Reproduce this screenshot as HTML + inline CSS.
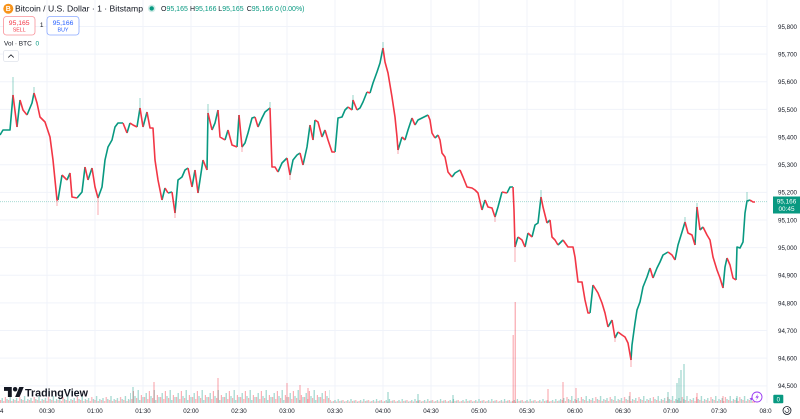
<!DOCTYPE html>
<html><head><meta charset="utf-8">
<style>
html,body{margin:0;padding:0;background:#fff;width:800px;height:419px;overflow:hidden}
svg{display:block}
text{font-family:"Liberation Sans",Arial,sans-serif}
</style></head><body>
<svg width="800" height="419" viewBox="0 0 800 419" xmlns="http://www.w3.org/2000/svg">
<defs>
<pattern id="pA" x="0" y="383" width="16" height="20" patternUnits="userSpaceOnUse">
<rect x="0" y="14" width="1.2" height="6" fill="#f23645" fill-opacity="0.4"/>
<rect x="1.6" y="10" width="1.2" height="10" fill="#089981" fill-opacity="0.4"/>
<rect x="3.2" y="16" width="1.2" height="4" fill="#f23645" fill-opacity="0.4"/>
<rect x="4.8" y="8" width="1.2" height="12" fill="#f23645" fill-opacity="0.4"/>
<rect x="6.4" y="13" width="1.2" height="7" fill="#089981" fill-opacity="0.4"/>
<rect x="8" y="15" width="1.2" height="5" fill="#f23645" fill-opacity="0.4"/>
<rect x="9.6" y="7" width="1.2" height="13" fill="#089981" fill-opacity="0.4"/>
<rect x="11.2" y="17" width="1.2" height="3" fill="#089981" fill-opacity="0.4"/>
<rect x="12.8" y="12" width="1.2" height="8" fill="#f23645" fill-opacity="0.4"/>
<rect x="14.4" y="14" width="1.2" height="6" fill="#089981" fill-opacity="0.4"/>
</pattern>
<pattern id="pB" x="0" y="383" width="14.4" height="20" patternUnits="userSpaceOnUse">
<rect x="0" y="17" width="1.2" height="3" fill="#f23645" fill-opacity="0.4"/>
<rect x="1.6" y="15" width="1.2" height="5" fill="#089981" fill-opacity="0.4"/>
<rect x="3.2" y="18" width="1.2" height="2" fill="#f23645" fill-opacity="0.4"/>
<rect x="4.8" y="14" width="1.2" height="6" fill="#f23645" fill-opacity="0.4"/>
<rect x="6.4" y="16" width="1.2" height="4" fill="#089981" fill-opacity="0.4"/>
<rect x="8" y="17" width="1.2" height="3" fill="#f23645" fill-opacity="0.4"/>
<rect x="9.6" y="13" width="1.2" height="7" fill="#089981" fill-opacity="0.4"/>
<rect x="11.2" y="18" width="1.2" height="2" fill="#f23645" fill-opacity="0.4"/>
<rect x="12.8" y="16" width="1.2" height="4" fill="#089981" fill-opacity="0.4"/>
</pattern>
<pattern id="pC" x="0" y="383" width="12.8" height="20" patternUnits="userSpaceOnUse">
<rect x="0" y="18" width="1.2" height="2" fill="#f23645" fill-opacity="0.4"/>
<rect x="1.6" y="17" width="1.2" height="3" fill="#089981" fill-opacity="0.4"/>
<rect x="3.2" y="18.5" width="1.2" height="1.5" fill="#f23645" fill-opacity="0.4"/>
<rect x="4.8" y="16" width="1.2" height="4" fill="#089981" fill-opacity="0.4"/>
<rect x="6.4" y="18" width="1.2" height="2" fill="#f23645" fill-opacity="0.4"/>
<rect x="8" y="17.5" width="1.2" height="2.5" fill="#089981" fill-opacity="0.4"/>
<rect x="9.6" y="17" width="1.2" height="3" fill="#f23645" fill-opacity="0.4"/>
<rect x="11.2" y="18.5" width="1.2" height="1.5" fill="#089981" fill-opacity="0.4"/>
</pattern>
</defs>
<rect x="0" y="0" width="800" height="419" fill="#fff"/>

<!-- grid -->
<path d="M-1 0V403M47 0V403M95 0V403M143 0V403M191 0V403M239 0V403M287 0V403M335 0V403M383 0V403M431 0V403M479 0V403M527 0V403M575 0V403M623 0V403M671 0V403M719 0V403M767 0V403" stroke="#f0f3fa" stroke-width="1" fill="none"/>
<path d="M0 26.5H767M0 54.14H767M0 81.78H767M0 109.42H767M0 137.06H767M0 164.7H767M0 192.34H767M0 219.98H767M0 247.62H767M0 275.26H767M0 302.9H767M0 330.54H767M0 358.18H767M0 385.82H767" stroke="#f0f3fa" stroke-width="1" fill="none"/>

<!-- volume base -->
<rect x="0" y="383" width="130" height="20" fill="url(#pB)"/>
<rect x="130" y="383" width="200" height="20" fill="url(#pA)"/>
<rect x="330" y="383" width="180" height="20" fill="url(#pC)"/>
<rect x="510" y="383" width="50" height="20" fill="url(#pC)"/>
<rect x="560" y="383" width="80" height="20" fill="url(#pB)"/>
<rect x="640" y="383" width="115" height="20" fill="url(#pB)"/>
<!-- volume spikes -->
<g fill-opacity="0.4">
<rect x="132.4" y="387" width="1.2" height="16" fill="#089981"/>
<rect x="153.4" y="382" width="1.2" height="21" fill="#f23645"/>
<rect x="217.4" y="378" width="1.2" height="25" fill="#f23645"/>
<rect x="286.4" y="383" width="1.2" height="20" fill="#f23645"/>
<rect x="299.4" y="385" width="1.2" height="18" fill="#f23645"/>
<rect x="307.4" y="388" width="1.2" height="15" fill="#f23645"/>
<rect x="387.4" y="392" width="1.2" height="11" fill="#089981"/>
<rect x="417.4" y="394" width="1.2" height="9" fill="#089981"/>
<rect x="452.4" y="395" width="1.2" height="8" fill="#089981"/>
<rect x="512.6" y="335" width="1.2" height="68" fill="#f23645"/>
<rect x="514.6" y="302" width="1.3" height="101" fill="#f23645"/>
<rect x="547.4" y="389" width="1.2" height="14" fill="#f23645"/>
<rect x="562.4" y="382" width="1.2" height="21" fill="#f23645"/>
<rect x="575.4" y="388" width="1.2" height="15" fill="#f23645"/>
<rect x="629.4" y="392" width="1.2" height="11" fill="#f23645"/>
<rect x="667.4" y="392" width="1.2" height="11" fill="#089981"/>
<rect x="676.4" y="383" width="1.2" height="20" fill="#089981"/>
<rect x="678.4" y="378" width="1.2" height="25" fill="#089981"/>
<rect x="680.4" y="370" width="1.2" height="33" fill="#089981"/>
<rect x="683.4" y="364" width="1.2" height="39" fill="#089981"/>
<rect x="696.4" y="393" width="1.2" height="10" fill="#f23645"/>
<rect x="722.4" y="396" width="1.2" height="7" fill="#f23645"/>
<rect x="736.4" y="396" width="1.2" height="7" fill="#089981"/>
</g>

<!-- current price line -->
<line x1="0" y1="201.7" x2="767" y2="201.7" stroke="#089981" stroke-opacity="0.4" stroke-width="0.8" stroke-dasharray="1 1"/>

<!-- wicks -->
<path d="M13 95V77M383 48V42M747 201V192M140 108V98M34 93V87M208 113V104M270 108V102M353 100V95M541 197V190M697 207V203M685 222V217" stroke="#089981" stroke-width="0.7" stroke-opacity="0.6" fill="none"/>
<path d="M631 360V367M515 247V262M98 198V215M175 213V218M57 200V206M242 147V152M290 175V180M398 150V154M495 217V222M615 338V342" stroke="#f23645" stroke-width="0.7" stroke-opacity="0.6" fill="none"/>

<!-- price series -->
<path fill="none" stroke="#089981" stroke-width="1.6" stroke-linejoin="round" stroke-linecap="butt" d="M0 135L3 130L10 130L13 95M17 127L20 100M27 115L32 103L34 93M58 200L62 175M67 180L70 173M77 198L82 192L85 167M88 180L92 168M98 198L102 187L105 160L108 147L112 140L115 127L118 123L123 123M127 133L130 123M137 127L140 108M143 127L147 112M162 200L165 188M168 193L172 192M175 213L178 180L182 177L185 170L188 168M192 187L195 170M198 193L200 180L203 160M207 170L208 113M212 130L215 123L218 110M225 140L228 130M237 147L239 115M242 147L245 143L248 133L252 118L255 117M258 127L262 118L265 112L270 108M278 172L282 163L287 158M290 175L293 160L297 155L300 153M303 165L307 147L310 125M313 140L315 120M322 137L325 130M335 152L338 118L342 117L345 110L348 107M352 110L353 100M357 110L360 108L363 102L367 92M370 93L373 83L377 72L380 63L383 48M398 150L402 137M405 140L408 130L412 118M415 125L418 120L422 118L428 115M435 138L438 135M452 177L455 173L460 170M482 210L485 200M495 217L498 207L502 192M507 193L510 187L513 187M515 247L518 237M525 247L528 233M532 237L535 225L538 223L541 197M547 223L550 220M558 245L563 240M590 313L593 285M608 327L612 320M615 338L618 332M631 360L632 345L635 323L637 310L640 302L643 287L647 277L650 268M653 278L657 268L660 262L663 255L668 252M675 260L678 245L682 232L685 222M695 245L697 207M700 230L703 227M723 288L725 267L727 258M736 280L737 247L740 248L743 242L745 213L747 201L750 200"/>
<path fill="none" stroke="#f23645" stroke-width="1.6" stroke-linejoin="round" stroke-linecap="butt" d="M13 95L17 127M20 100L23 110L27 115M34 93L37 103L40 117L45 122L50 137L53 160L57 200L58 200M62 175L67 180M70 173L72 197L77 198M85 167L88 180M92 168L95 187L98 198M123 123L127 133M130 123L133 125L137 127M140 108L143 127M147 112L150 128L153 128L155 160L158 180L162 200M165 188L168 193M172 192L175 213M188 168L192 187M195 170L198 193M203 160L207 170M208 113L212 130M218 110L220 137L225 140M228 130L232 145L237 147M239 115L242 147M255 117L258 127M270 108L272 167L275 167L278 172M287 158L290 175M300 153L303 165M310 125L313 140M315 120L318 122L322 137M325 130L328 140L332 152L335 152M348 107L352 110M353 100L357 110M367 92L370 93M383 48L385 62L388 73L392 97L395 117L397 137L398 150M402 137L405 140M412 118L415 125M428 115L430 120L432 133L435 138M438 135L440 140L442 153L445 157L448 172L452 177M460 170L463 177L467 187L472 188L475 190L478 193L482 210M485 200L488 207L492 208L495 217M502 192L507 193M513 187L514 210L515 247M518 237L522 240L525 247M528 233L532 237M541 197L543 207L547 223M550 220L552 237L555 240L558 245M563 240L568 247L573 247L575 257L578 282L582 282L585 300L588 313L590 313M593 285L598 293L602 303L605 313L608 327M612 320L615 338M618 332L622 335L625 337L628 343L631 360M650 268L653 278M668 252L672 255L675 260M685 222L688 233L692 235L695 245M697 207L700 230M703 227L707 235L710 240L713 257L717 270L720 278L723 288M727 258L730 265L733 278L736 280M750 200L753 202L755 202"/>

<!-- price axis -->
<g font-size="6.8" fill="#131722">
<text x="778" y="28.9" textLength="19" lengthAdjust="spacingAndGlyphs">95,800</text>
<text x="778" y="56.5" textLength="19" lengthAdjust="spacingAndGlyphs">95,700</text>
<text x="778" y="84.2" textLength="19" lengthAdjust="spacingAndGlyphs">95,600</text>
<text x="778" y="111.8" textLength="19" lengthAdjust="spacingAndGlyphs">95,500</text>
<text x="778" y="139.5" textLength="19" lengthAdjust="spacingAndGlyphs">95,400</text>
<text x="778" y="167.1" textLength="19" lengthAdjust="spacingAndGlyphs">95,300</text>
<text x="778" y="194.7" textLength="19" lengthAdjust="spacingAndGlyphs">95,200</text>
<text x="778" y="222.4" textLength="19" lengthAdjust="spacingAndGlyphs">95,100</text>
<text x="778" y="250" textLength="19" lengthAdjust="spacingAndGlyphs">95,000</text>
<text x="778" y="277.7" textLength="19" lengthAdjust="spacingAndGlyphs">94,900</text>
<text x="778" y="305.3" textLength="19" lengthAdjust="spacingAndGlyphs">94,800</text>
<text x="778" y="332.9" textLength="19" lengthAdjust="spacingAndGlyphs">94,700</text>
<text x="778" y="360.6" textLength="19" lengthAdjust="spacingAndGlyphs">94,600</text>
<text x="778" y="388.2" textLength="19" lengthAdjust="spacingAndGlyphs">94,500</text>
</g>

<!-- time axis -->
<g font-size="6.2" fill="#131722" text-anchor="middle">
<text x="47" y="413">00:30</text>
<text x="95" y="413">01:00</text>
<text x="143" y="413">01:30</text>
<text x="191" y="413">02:00</text>
<text x="239" y="413">02:30</text>
<text x="287" y="413">03:00</text>
<text x="335" y="413">03:30</text>
<text x="383" y="413">04:00</text>
<text x="431" y="413">04:30</text>
<text x="479" y="413">05:00</text>
<text x="527" y="413">05:30</text>
<text x="575" y="413">06:00</text>
<text x="623" y="413">06:30</text>
<text x="671" y="413">07:00</text>
<text x="719" y="413">07:30</text>
</g>
<text x="0" y="413" font-size="6.2" fill="#131722">4</text>
<text x="759.5" y="413" font-size="6.2" fill="#131722">08:0</text>

<!-- header -->
<circle cx="8.3" cy="8.7" r="5" fill="#f7931a"/>
<text x="8.3" y="11.2" font-size="7" font-weight="bold" fill="#fff" text-anchor="middle">B</text>
<text x="15" y="11.6" font-size="8.7" fill="#131722" textLength="128" lengthAdjust="spacingAndGlyphs">Bitcoin / U.S. Dollar · 1 · Bitstamp</text>
<circle cx="151.7" cy="8.4" r="3.8" fill="#089981" fill-opacity="0.2"/>
<circle cx="151.7" cy="8.4" r="2.2" fill="#089981"/>
<text x="161" y="11" font-size="7"><tspan fill="#131722">O</tspan><tspan fill="#089981">95,165</tspan></text>
<text x="190" y="11" font-size="7"><tspan fill="#131722">H</tspan><tspan fill="#089981">95,166</tspan></text>
<text x="218.3" y="11" font-size="7"><tspan fill="#131722">L</tspan><tspan fill="#089981">95,165</tspan></text>
<text x="246.7" y="11" font-size="7"><tspan fill="#131722">C</tspan><tspan fill="#089981">95,166</tspan></text>
<text x="275" y="11" font-size="7" fill="#089981">0</text>
<text x="280" y="11" font-size="7" fill="#089981">(0.00%)</text>

<rect x="3.5" y="16.5" width="31.5" height="18.5" rx="3" fill="#fff" stroke="#f23645" stroke-opacity="0.55" stroke-width="0.8"/>
<text x="19.2" y="25" font-size="6.8" fill="#f23645" text-anchor="middle">95,165</text>
<text x="19.2" y="31.6" font-size="5.3" fill="#f23645" text-anchor="middle">SELL</text>
<text x="41.7" y="27.2" font-size="6.5" fill="#131722" text-anchor="middle">1</text>
<rect x="47" y="16.5" width="32" height="18.5" rx="3" fill="#fff" stroke="#2962ff" stroke-opacity="0.55" stroke-width="0.8"/>
<text x="63" y="25" font-size="6.8" fill="#2962ff" text-anchor="middle">95,166</text>
<text x="63" y="31.6" font-size="5.3" fill="#2962ff" text-anchor="middle">BUY</text>

<text x="4" y="45.7" font-size="6.5" fill="#131722">Vol · BTC</text>
<text x="35.5" y="45.7" font-size="6.5" fill="#089981">0</text>

<rect x="3.5" y="50.5" width="15" height="11" rx="2" fill="#fff" stroke="#e0e3eb" stroke-width="0.8"/>
<polyline points="8.2,57.5 11,54.8 13.8,57.5" fill="none" stroke="#131722" stroke-width="0.8"/>

<!-- logo -->
<g transform="translate(4,384.8) scale(0.556)" fill="#131722">
<path d="M14 22H7V11H0V4h14v18zM28 22h-8l7.5-18h8L28 22z"/>
<circle cx="20" cy="8" r="4"/>
</g>
<text x="25" y="396.6" font-size="11" font-weight="bold" fill="#131722" textLength="63" lengthAdjust="spacingAndGlyphs">TradingView</text>

<!-- price label -->
<rect x="773" y="196.5" width="27" height="17" fill="#089981"/>
<text x="786.5" y="203.3" font-size="6.4" fill="#fff" text-anchor="middle">95,166</text>
<text x="786.5" y="211" font-size="6.4" fill="#fff" text-anchor="middle">00:45</text>

<!-- volume last -->
<rect x="773.3" y="394.8" width="10" height="8.5" rx="1" fill="#089981"/>
<text x="778.3" y="401.5" font-size="6" fill="#fff" text-anchor="middle">0</text>

<!-- purple icon -->
<circle cx="757" cy="397" r="5" fill="#fff" stroke="#9b3df2" stroke-width="0.9"/>
<path d="M758.2 393.6 L755.4 397.6 L757.3 397.6 L755.9 400.6 L758.9 396.4 L757 396.4 Z" fill="#9b3df2"/>
<path d="M749.5 398.8 L752 397.4 L752 400.2 Z" fill="#9b3df2"/>

<!-- bottom right icon -->
<circle cx="787" cy="410.5" r="4" fill="#fff" stroke="#131722" stroke-width="0.8"/>
<path d="M785 410.5 a2 2 0 1 0 2 -2" fill="none" stroke="#131722" stroke-width="0.7"/>
</svg>
</body></html>
